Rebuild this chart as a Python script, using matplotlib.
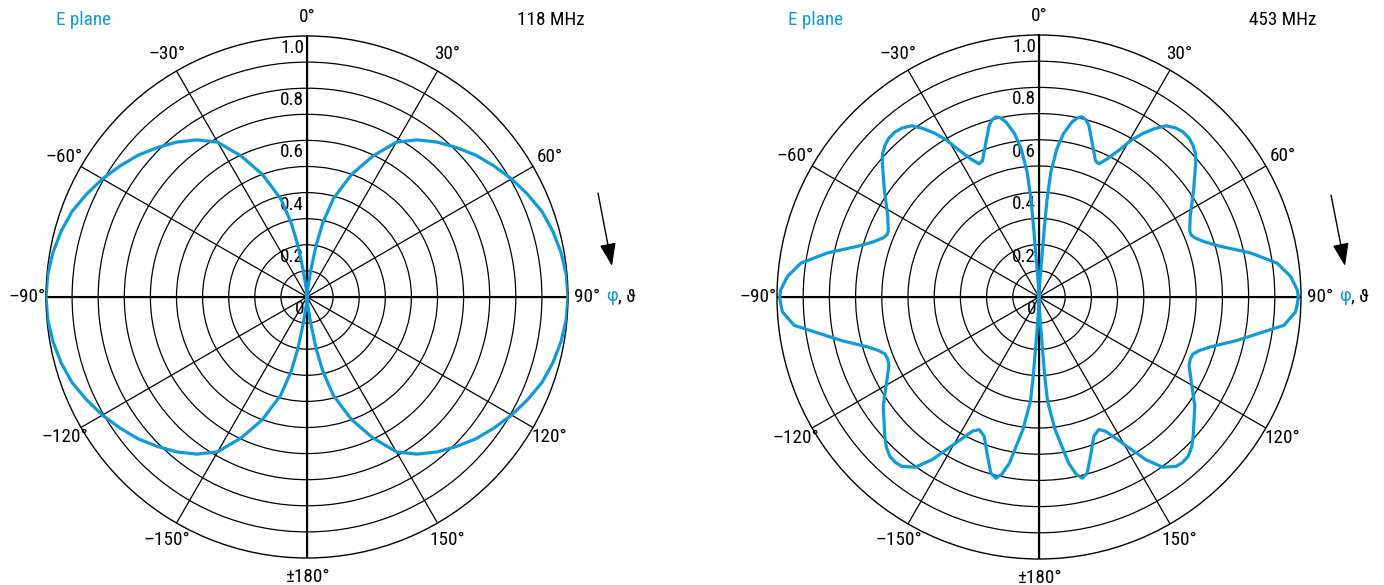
import numpy as np
import matplotlib
matplotlib.use("Agg")
import matplotlib.pyplot as plt
from matplotlib import font_manager

W, H = 1384, 585
BLUE = "#0f9ad9"
plt.rcParams["path.simplify"] = False


def _available(name):
    try:
        font_manager.findfont(font_manager.FontProperties(family=name),
                              fallback_to_default=False)
        return True
    except Exception:
        return False


_cands = ["Roboto Condensed", "DejaVu Sans Condensed", "Liberation Sans Narrow", "Roboto"]
FONT = [f for f in _cands if _available(f)][:1] + ["DejaVu Sans"]
plt.rcParams["font.family"] = FONT
FS = 13.8

# ---------------- data (degrees, clockwise from top; relative field strength) ----------------
# 118 MHz
theta118_q1 = [0, 4, 6, 8, 10, 12, 15, 20, 25, 30, 35, 40, 45, 50, 55, 60, 65, 70, 75, 80, 85, 90]
r118_q1 = [0, .02, .04, .10, .20, .29, .39, .50, .595, .685, .735, .775, .81, .845, .875, .905,
           .932, .958, .975, .988, .997, 1.0]
theta118_q2 = [95, 100, 105, 110, 115, 120, 125, 130, 135, 140, 145, 150, 155, 160, 165, 168,
               170, 172, 174, 176, 180]
r118_q2 = [.997, .988, .975, .958, .932, .905, .875, .845, .81, .775, .735, .685, .595, .50,
           .39, .29, .20, .10, .04, .02, 0]
theta118_q3 = [184, 186, 188, 190, 192, 195, 200, 205, 210, 215, 220, 225, 230, 235, 240, 245,
               250, 255, 260, 265, 270]
r118_q3 = [.02, .04, .10, .20, .29, .39, .50, .595, .685, .735, .775, .81, .845, .875, .905,
           .932, .958, .975, .988, .997, 1.0]
theta118_q4 = [275, 280, 285, 290, 295, 300, 305, 310, 315, 320, 325, 330, 335, 340, 345, 348,
               350, 352, 354, 356, 360]
r118_q4 = [.997, .988, .975, .958, .932, .905, .875, .845, .81, .775, .735, .685, .595, .50,
           .39, .29, .20, .10, .04, .02, 0]

# 453 MHz
theta453_q1 = [0, 2, 3, 3.8, 4.1, 4.4, 4.7, 5.4, 6.85, 8.5, 10.7, 12.2, 13.4, 14.8, 16.2, 18.9,
               22.5, 24.2, 26.3, 28.9, 30.4, 32.4, 34.5, 36.6, 39, 41.1, 43.5, 45.4, 47.5, 49.3,
               55.1, 61.8, 64.5, 66.4, 67.8, 69.2, 71.5, 74.3, 78.2, 81.9, 85.3, 88.4, 90]
r453_q1 = [0, .02, .05, .10, .143, .25, .37, .478, .569, .63, .68, .70, .707, .70, .682, .625,
           .563, .557, .588, .646, .692, .739, .78, .814, .83, .836, .834, .825, .81, .789,
           .72, .655, .638, .628, .627, .636, .665, .717, .824, .918, .963, .986, .99]
theta453_q2 = [91.6, 93.3, 96.6, 98.8, 102.4, 106.3, 108.5, 110.3, 112.3, 114.6, 119.3, 125,
               132.1, 134.5, 136.9, 139, 141, 144, 146.7, 150.3, 153.6, 155.7, 158.5, 162.1,
               164.7, 166.6, 168.2, 169.9, 173.1, 175.3, 175.8, 176.2, 177, 178, 180]
r453_q2 = [.986, .981, .941, .868, .773, .68, .645, .627, .624, .630, .667, .726,
           .793, .817, .833, .836, .832, .803, .743, .642, .572, .555, .571, .639,
           .697, .711, .69, .644, .509, .40, .31, .20, .09, .04, 0]
theta453_q3 = [182, 183, 183.8, 184.2, 184.7, 186.9, 190.1, 191.8, 193.4, 195.3, 197.9, 201.5,
               204.3, 206.4, 209.7, 213.3, 216, 219, 221, 223.1, 225.5, 227.9, 235, 240.7,
               245.4, 247.7, 249.7, 251.5, 253.7, 257.6, 261.2, 263.4, 266.7, 268.4, 270]
r453_q3 = [.04, .09, .20, .31, .40, .509, .644, .69, .711, .697, .639, .571,
           .555, .572, .642, .743, .803, .832, .836, .833, .817, .793, .726, .667,
           .630, .624, .627, .645, .68, .773, .868, .941, .981, .986, .99]
theta453_q4 = [271.6, 274.7, 278.1, 281.8, 285.7, 288.5, 290.8, 292.2, 293.6, 295.5, 298.2,
               304.9, 310.7, 312.5, 314.6, 316.5, 318.9, 321, 323.4, 325.5, 327.6, 329.6,
               331.1, 333.7, 335.8, 337.5, 341.1, 343.8, 345.2, 346.6, 347.8, 349.3, 351.5,
               353.15, 354.6, 355.3, 355.6, 355.9, 356.2, 357, 358, 360]
r453_q4 = [.986, .963, .918, .824, .717, .665, .636, .627, .628, .638, .655,
           .72, .789, .81, .825, .834, .836, .83, .814, .78, .739, .692,
           .646, .588, .557, .563, .625, .682, .70, .707, .70, .68, .63,
           .569, .478, .37, .25, .143, .10, .05, .02, 0]

ring_values = [0.1, 0.2, 0.3, 0.4, 0.5, 0.6, 0.7, 0.8, 0.9]
ring_labels = {1.0: "1.0", 0.8: "0.8", 0.6: "0.6", 0.4: "0.4", 0.2: "0.2", 0.0: "0"}
angle_labels = {0: "0°", 30: "30°", 60: "60°", 90: "90°", 120: "120°", 150: "150°",
                180: "±180°", 210: "–150°", 240: "–120°", 270: "–90°", 300: "–60°",
                330: "–30°"}

panels = [
    dict(cx=307, cy=297, R=261, freq="118 MHz", freq_x=585, eplane_x=56,
         arrow=((598, 193), (612, 266)), phi_x=606,
         th=[theta118_q1, theta118_q2, theta118_q3, theta118_q4],
         r=[r118_q1, r118_q2, r118_q3, r118_q4]),
    dict(cx=1039, cy=297, R=262, freq="453 MHz", freq_x=1316, eplane_x=788,
         arrow=((1331, 195), (1345, 266)), phi_x=1339,
         th=[theta453_q1, theta453_q2, theta453_q3, theta453_q4],
         r=[r453_q1, r453_q2, r453_q3, r453_q4]),
]

fig = plt.figure(figsize=(W / 100, H / 100), dpi=100)


def fx(x):
    return x / W


def fy(y):
    return 1 - y / H


phi_texts = []
lines = []
for p in panels:
    cx, cy, R = p["cx"], p["cy"], p["R"]
    ax = fig.add_axes([fx(cx - R), fy(cy + R), 2 * R / W, 2 * R / H], projection="polar")
    ax.set_theta_zero_location("N")
    ax.set_theta_direction(-1)
    ax.set_ylim(0, 1)
    ax.set_xticks(np.deg2rad(np.arange(0, 360, 30)))
    ax.set_yticks(ring_values)
    ax.set_xticklabels([])
    ax.set_yticklabels([])
    ax.grid(True, color="black", linewidth=0.9)
    ax.spines["polar"].set_linewidth(1.0)
    ax.spines["polar"].set_color("black")
    ax.tick_params(length=0)
    # main axes (heavier)
    for a in (0, 90):
        t = np.deg2rad(a)
        ax.plot([t, t], [0, 1], color="black", lw=1.5, zorder=2)
        ax.plot([t + np.pi, t + np.pi], [0, 1], color="black", lw=1.5, zorder=2)

    th_all = np.concatenate([np.asarray(q, float) for q in p["th"]])
    r_all = np.concatenate([np.asarray(q, float) for q in p["r"]])
    line, = ax.plot(np.deg2rad(th_all), r_all, color=BLUE, lw=2.3, zorder=5,
                    solid_joinstyle="round", solid_capstyle="round")
    lines.append(line)

    for a, s in angle_labels.items():
        ax.text(np.deg2rad(a), 1.073, s, ha="center", va="center", fontsize=FS,
                color="black", clip_on=False)
    for v, s in ring_labels.items():
        ax.annotate(s, xy=(0, v), xytext=(-3, -12), textcoords="offset pixels",
                    ha="right", va="center", fontsize=FS, color="black", zorder=3)

    fig.text(fx(p["eplane_x"]), fy(20), "E plane", color=BLUE, fontsize=FS,
             ha="left", va="center")
    fig.text(fx(p["freq_x"]), fy(20), p["freq"], color="black", fontsize=FS,
             ha="right", va="center")
    (x0, y0), (x1, y1) = p["arrow"]
    fig.add_artist(matplotlib.patches.FancyArrowPatch(
        (fx(x0), fy(y0)), (fx(x1), fy(y1)), transform=fig.transFigure,
        arrowstyle="-|>,head_length=14,head_width=5", color="black", lw=1.0,
        shrinkA=0, shrinkB=0, mutation_scale=1))
    t_phi = fig.text(fx(p["phi_x"]), fy(296), "φ", color=BLUE, fontsize=FS, ha="left",
                     va="center")
    phi_texts.append(t_phi)

# place ", ϑ" right after each blue φ
fig.canvas.draw()
renderer = fig.canvas.get_renderer()
for t_phi in phi_texts:
    bb = t_phi.get_window_extent(renderer)
    fig.text(bb.x1 / W + 0.5 / W, fy(296), ", ϑ", color="black", fontsize=FS,
             ha="left", va="center")
# let the polar transform draw each segment between readings as an arc
for line in lines:
    pth = line.get_path()
    pth._interpolation_steps = 40
    pth.should_simplify = False

fig.savefig("out.png", dpi=100)
